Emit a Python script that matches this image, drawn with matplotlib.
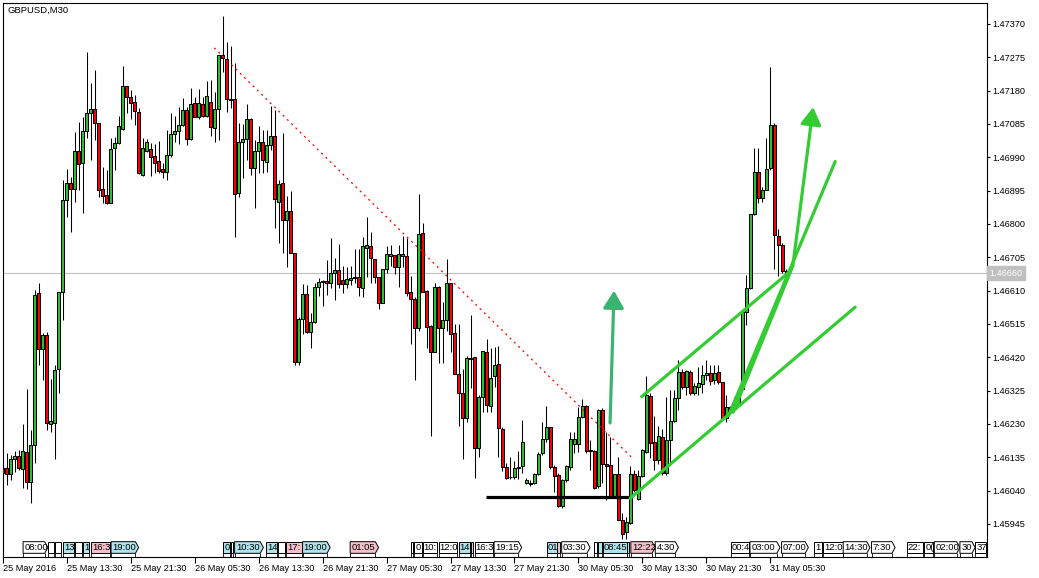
import numpy as np
import matplotlib
matplotlib.use("Agg")
import matplotlib.pyplot as plt
from matplotlib.patches import Polygon
from matplotlib.transforms import blended_transform_factory

plt.rcParams["font.family"] = ["Liberation Sans", "DejaVu Sans"]

W, H = 1039, 578

# GBPUSD M30 candles, 25 May 05:30 .. 31 May 07:30
opens = [
    1.46105, 1.46106, 1.46087, 1.46129, 1.46139, 1.46103, 1.46151, 1.46064, 1.46170, 1.46602,
    1.46445, 1.46483, 1.46229, 1.46232, 1.46388, 1.46605, 1.46867, 1.46917, 1.46899, 1.47008,
    1.46973, 1.47065, 1.47115, 1.47129, 1.47087, 1.46901, 1.46882, 1.46860, 1.47018, 1.47032,
    1.47072, 1.47193, 1.47161, 1.47147, 1.47118, 1.46940, 1.47009, 1.47013, 1.46994, 1.46980,
    1.46957, 1.46949, 1.46997, 1.47056, 1.47065, 1.47082, 1.47125, 1.47041, 1.47144, 1.47106,
    1.47141, 1.47109, 1.47147, 1.47073, 1.47127, 1.47282, 1.47269, 1.47155, 1.47155, 1.46888,
    1.47035, 1.47041, 1.47098, 1.46959, 1.47008, 1.47033, 1.46978, 1.47025, 1.47051, 1.46864,
    1.46918, 1.46810, 1.46837, 1.46717, 1.46406, 1.46528, 1.46601, 1.46493, 1.46520, 1.46620,
    1.46634, 1.46637, 1.46631, 1.46660, 1.46668, 1.46641, 1.46629, 1.46639, 1.46645, 1.46648,
    1.46617, 1.46731, 1.46737, 1.46699, 1.46648, 1.46576, 1.46671, 1.46710, 1.46711, 1.46677,
    1.46709, 1.46709, 1.46605, 1.46585, 1.46505, 1.46774, 1.46609, 1.46509, 1.46436, 1.46620,
    1.46503, 1.46527, 1.46631, 1.46489, 1.46373, 1.46318, 1.46248, 1.46415, 1.46420, 1.46161,
    1.46306, 1.46434, 1.46281, 1.46367, 1.46400, 1.46215, 1.46107, 1.46080, 1.46078, 1.46106,
    1.46109, 1.46063, 1.46060, 1.46061, 1.46088, 1.46148, 1.46186, 1.46221, 1.46107, 1.46085,
    1.45995, 1.46069, 1.46107, 1.46173, 1.46173, 1.46249, 1.46281, 1.46156, 1.46153, 1.46052,
    1.46270, 1.46116, 1.46113, 1.46025, 1.46088, 1.45957, 1.45921, 1.45947, 1.46088, 1.46015,
    1.46082, 1.46151, 1.46309, 1.46178, 1.46127, 1.46193, 1.46089, 1.46184, 1.46239, 1.46303,
    1.46377, 1.46336, 1.46379, 1.46319, 1.46336, 1.46345, 1.46370, 1.46374, 1.46355, 1.46377,
    1.46350, 1.46246, 1.46279, 1.46272, 1.46284, 1.46331, 1.46548, 1.46619, 1.46828, 1.46949,
    1.46873, 1.46898, 1.46960, 1.47082, 1.46765, 1.46740, 1.46667,
]
highs = [
    1.46108, 1.46146, 1.46141, 1.46154, 1.46156, 1.46230, 1.46331, 1.46213, 1.46613, 1.46631,
    1.46488, 1.46493, 1.46357, 1.46398, 1.46605, 1.46925, 1.46958, 1.46933, 1.47063, 1.47091,
    1.47104, 1.47289, 1.47202, 1.47240, 1.47087, 1.46963, 1.46954, 1.47044, 1.47049, 1.47107,
    1.47250, 1.47193, 1.47182, 1.47167, 1.47130, 1.47044, 1.47041, 1.47030, 1.47027, 1.47037,
    1.46973, 1.47068, 1.47117, 1.47108, 1.47133, 1.47158, 1.47134, 1.47187, 1.47161, 1.47184,
    1.47161, 1.47208, 1.47211, 1.47177, 1.47282, 1.47393, 1.47318, 1.47306, 1.47258, 1.47087,
    1.47084, 1.47142, 1.47101, 1.47040, 1.47079, 1.47068, 1.47068, 1.47135, 1.47125, 1.46924,
    1.47060, 1.46880, 1.46895, 1.46717, 1.46534, 1.46629, 1.46626, 1.46545, 1.46631, 1.46645,
    1.46640, 1.46698, 1.46759, 1.46702, 1.46742, 1.46679, 1.46677, 1.46679, 1.46728, 1.46728,
    1.46762, 1.46819, 1.46778, 1.46699, 1.46648, 1.46671, 1.46737, 1.46740, 1.46711, 1.46740,
    1.46766, 1.46759, 1.46652, 1.46593, 1.46886, 1.46802, 1.46612, 1.46512, 1.46631, 1.46622,
    1.46579, 1.46699, 1.46631, 1.46514, 1.46514, 1.46386, 1.46424, 1.46541, 1.46420, 1.46313,
    1.46437, 1.46471, 1.46446, 1.46449, 1.46451, 1.46221, 1.46120, 1.46137, 1.46125, 1.46154,
    1.46240, 1.46075, 1.46069, 1.46090, 1.46151, 1.46237, 1.46280, 1.46221, 1.46113, 1.46090,
    1.46072, 1.46113, 1.46208, 1.46208, 1.46278, 1.46300, 1.46284, 1.46185, 1.46156, 1.46272,
    1.46275, 1.46208, 1.46194, 1.46088, 1.46137, 1.45976, 1.45966, 1.46109, 1.46099, 1.46099,
    1.46158, 1.46366, 1.46318, 1.46252, 1.46224, 1.46217, 1.46308, 1.46327, 1.46327, 1.46412,
    1.46388, 1.46385, 1.46384, 1.46347, 1.46393, 1.46398, 1.46412, 1.46398, 1.46398, 1.46398,
    1.46350, 1.46312, 1.46282, 1.46308, 1.46331, 1.46555, 1.46654, 1.46828, 1.47018, 1.47018,
    1.46906, 1.47044, 1.47248, 1.47088, 1.46787, 1.46745, 1.46673,
]
lows = [
    1.46080, 1.46056, 1.46070, 1.46094, 1.46099, 1.46049, 1.46046, 1.46005, 1.46119, 1.46398,
    1.46355, 1.46213, 1.46208, 1.46129, 1.46317, 1.46526, 1.46820, 1.46778, 1.46863, 1.46897,
    1.46830, 1.47044, 1.46982, 1.47039, 1.46878, 1.46859, 1.46856, 1.46859, 1.46954, 1.47028,
    1.47068, 1.47115, 1.47098, 1.47082, 1.46943, 1.46938, 1.47006, 1.46938, 1.46945, 1.46945,
    1.46932, 1.46924, 1.46992, 1.47035, 1.47028, 1.47078, 1.47025, 1.47039, 1.47104, 1.47098,
    1.47104, 1.47106, 1.47051, 1.47035, 1.47040, 1.47234, 1.47120, 1.47132, 1.46764, 1.46878,
    1.46932, 1.46983, 1.46940, 1.46847, 1.46945, 1.46946, 1.46949, 1.47011, 1.46788, 1.46745,
    1.46718, 1.46677, 1.46717, 1.46398, 1.46398, 1.46486, 1.46490, 1.46446, 1.46519, 1.46595,
    1.46567, 1.46598, 1.46617, 1.46582, 1.46617, 1.46604, 1.46617, 1.46626, 1.46631, 1.46595,
    1.46591, 1.46650, 1.46631, 1.46631, 1.46557, 1.46576, 1.46660, 1.46679, 1.46658, 1.46621,
    1.46677, 1.46595, 1.46458, 1.46354, 1.46496, 1.46607, 1.46446, 1.46196, 1.46436, 1.46405,
    1.46405, 1.46496, 1.46436, 1.46373, 1.46224, 1.46129, 1.46237, 1.46332, 1.46075, 1.46135,
    1.46265, 1.46265, 1.46265, 1.46336, 1.46135, 1.46097, 1.46072, 1.46072, 1.46072, 1.46072,
    1.46090, 1.46058, 1.46054, 1.46059, 1.46085, 1.46142, 1.46180, 1.46101, 1.46037, 1.45993,
    1.45990, 1.46066, 1.46099, 1.46147, 1.46151, 1.46246, 1.46148, 1.46099, 1.46045, 1.46047,
    1.46061, 1.46014, 1.46018, 1.46023, 1.45955, 1.45901, 1.45901, 1.45945, 1.46037, 1.46014,
    1.46078, 1.46147, 1.46132, 1.46098, 1.46117, 1.46084, 1.46084, 1.46117, 1.46236, 1.46270,
    1.46331, 1.46312, 1.46312, 1.46312, 1.46312, 1.46319, 1.46355, 1.46341, 1.46345, 1.46345,
    1.46241, 1.46236, 1.46270, 1.46270, 1.46279, 1.46327, 1.46512, 1.46616, 1.46825, 1.46860,
    1.46863, 1.46897, 1.46954, 1.46673, 1.46651, 1.46659, 1.46654,
]
closes = [
    1.46089, 1.46087, 1.46129, 1.46139, 1.46106, 1.46154, 1.46064, 1.46170, 1.46599, 1.46445,
    1.46483, 1.46232, 1.46238, 1.46385, 1.46605, 1.46867, 1.46917, 1.46901, 1.47008, 1.46970,
    1.47065, 1.47115, 1.47129, 1.47087, 1.46898, 1.46880, 1.46860, 1.47015, 1.47031, 1.47079,
    1.47193, 1.47161, 1.47144, 1.47122, 1.46946, 1.47016, 1.47033, 1.46992, 1.46975, 1.46952,
    1.46949, 1.46997, 1.47056, 1.47065, 1.47082, 1.47125, 1.47041, 1.47141, 1.47106, 1.47144,
    1.47109, 1.47165, 1.47076, 1.47127, 1.47282, 1.47272, 1.47155, 1.47153, 1.46885, 1.47033,
    1.47041, 1.47098, 1.46959, 1.47008, 1.47033, 1.46983, 1.47025, 1.47051, 1.46870, 1.46914,
    1.46810, 1.46837, 1.46717, 1.46406, 1.46528, 1.46601, 1.46493, 1.46520, 1.46620, 1.46634,
    1.46637, 1.46631, 1.46660, 1.46668, 1.46628, 1.46628, 1.46642, 1.46645, 1.46650, 1.46620,
    1.46736, 1.46740, 1.46702, 1.46648, 1.46576, 1.46671, 1.46714, 1.46714, 1.46677, 1.46715,
    1.46714, 1.46604, 1.46585, 1.46503, 1.46772, 1.46607, 1.46507, 1.46436, 1.46621, 1.46503,
    1.46525, 1.46631, 1.46487, 1.46373, 1.46318, 1.46246, 1.46417, 1.46419, 1.46163, 1.46306,
    1.46437, 1.46284, 1.46360, 1.46398, 1.46218, 1.46107, 1.46075, 1.46078, 1.46106, 1.46108,
    1.46178, 1.46071, 1.46061, 1.46088, 1.46145, 1.46186, 1.46221, 1.46107, 1.46083, 1.45995,
    1.46069, 1.46110, 1.46186, 1.46186, 1.46249, 1.46280, 1.46154, 1.46153, 1.46049, 1.46270,
    1.46116, 1.46110, 1.46025, 1.46088, 1.45957, 1.45917, 1.45950, 1.46088, 1.46042, 1.46082,
    1.46156, 1.46314, 1.46175, 1.46127, 1.46195, 1.46089, 1.46184, 1.46239, 1.46303, 1.46379,
    1.46336, 1.46382, 1.46319, 1.46338, 1.46347, 1.46369, 1.46374, 1.46353, 1.46374, 1.46350,
    1.46246, 1.46279, 1.46272, 1.46289, 1.46319, 1.46548, 1.46619, 1.46828, 1.46949, 1.46873,
    1.46898, 1.46958, 1.47082, 1.46768, 1.46740, 1.46667, 1.46660,
]

last_price = 1.46660
price_ticks = [1.45945, 1.46040, 1.46135, 1.46230, 1.46325, 1.46420, 1.46515, 1.46610,
               1.46705, 1.46800, 1.46895, 1.46990, 1.47085, 1.47180, 1.47275, 1.47370]
time_tick_bars = [0, 16, 32, 48, 64, 80, 96, 112, 128, 144, 160, 176, 192]
time_tick_labels = ["25 May 2016", "25 May 13:30", "25 May 21:30", "26 May 05:30",
                    "26 May 13:30", "26 May 21:30", "27 May 05:30", "27 May 13:30",
                    "27 May 21:30", "30 May 05:30", "30 May 13:30", "30 May 21:30",
                    "31 May 05:30"]

# economic calendar markers along the bottom (bar positions)
event_start = [5.1, 11.4, 13.2, 15.0, 18.2, 20.1, 22.1, 27.1, 55.1, 57.1, 58.0, 65.8, 68.9,
               70.9, 75.0, 86.9, 102.1, 102.9, 105.0, 109.0, 114.0, 117.1, 118.0, 122.9,
               136.1, 138.7, 139.8, 147.9, 149.0, 150.1, 156.1, 163.2, 157.1, 182.1, 186.9,
               194.8, 203.0, 205.1, 210.2, 217.3, 226.1, 230.5, 233.0, 239.4, 243.2]
event_end = [11.3, 12.8, 14.7, 17.9, 19.8, 21.7, 26.9, 34.0, 56.9, 57.7, 65.2, 68.7, 70.7,
             74.8, 81.9, 94.0, 102.6, 104.8, 108.7, 113.7, 116.9, 117.7, 122.7, 129.8,
             138.6, 139.4, 146.9, 148.6, 149.8, 156.1, 156.7, 169.0, 163.2, 186.7, 194.4,
             201.5, 204.8, 210.1, 216.9, 223.2, 230.2, 232.7, 239.4, 243.2, 245.9]
event_text = ["08:00", "", "", "13", "", "1", "16:3", "19:00", "0", "", "10:30", "14", "",
              "17:", "19:00", "01:05", "", "0", "10:", "12:0", "14", "", "16:3", "19:15",
              "01", "", "03:30", "", "", "08:45", "", "4:30", "12:22", "00:4", "03:00",
              "07:00", "1", "12:0", "14:30", "7:30", "22:", "0(", "02:00", "30", "37"]
event_kind = ["w", "w", "w", "c", "w", "c", "p", "c", "c", "w", "c", "c", "w",
              "p", "c", "p", "w", "w", "w", "w", "c", "p", "w", "w",
              "c", "p", "w", "w", "c", "c", "c", "w", "p", "w", "w",
              "w", "w", "w", "w", "w", "w", "w", "w", "w", "w"]
event_arrow = [1, 0, 0, 0, 0, 0, 0, 1, 0, 0, 1, 0, 0,
               0, 1, 1, 0, 0, 0, 0, 0, 0, 0, 1,
               0, 0, 1, 0, 0, 0, 0, 1, 1, 0, 1,
               1, 0, 0, 1, 1, 0, 0, 1, 1, 0]

BULL = "#2DC52D"
BEAR = "#FF0000"
LINE_GREEN = "#33CC33"
ARROW_GREEN = "#3CB371"
FILLS = {"w": "white", "c": "#B0E4EC", "p": "#F6C0CB"}

fig = plt.figure(figsize=(W / 100, H / 100), dpi=100)
ax = fig.add_axes([2.7 / W, (H - 556.7) / H, 984.0 / W, 554.0 / H])
ax.set_xlim(0.09, 246.1)
ax.set_ylim(1.458518, 1.474307)

for s in ax.spines.values():
    s.set_color("black")
    s.set_linewidth(0.8)

idx = np.arange(len(closes))
o = np.array(opens)
c = np.array(closes)
bull = c >= o

ax.axhline(last_price, color="#C0C0C0", lw=0.8, zorder=0.5)

# candles
ax.vlines(idx, lows, highs, color="black", lw=0.75, zorder=2)
ax.bar(idx, np.abs(c - o), bottom=np.minimum(o, c), width=0.62,
       color=np.where(bull, BULL, BEAR), edgecolor="black", linewidth=0.75, zorder=3)

# drawn objects
ax.plot([52.9, 157.2], [1.47302, 1.46136], color="red", lw=0.9,
        linestyle=(0, (1.6, 3.2)), zorder=4)
ax.plot([120.8, 157.3], [1.46023, 1.46023], color="black", lw=2.3,
        solid_capstyle="butt", zorder=4)
for (x0, y0, x1, y1) in [(159.8, 1.46308, 196.5, 1.46661),
                         (156.9, 1.46018, 213.2, 1.46563),
                         (181.5, 1.46253, 208.2, 1.46978),
                         (182.7, 1.46264, 197.7, 1.46683)]:
    ax.plot([x0, x1], [y0, y1], color=LINE_GREEN, lw=2.3, zorder=5,
            solid_capstyle="round")

head = "-|>,head_length=0.75,head_width=0.45"
ax.annotate("", xy=(152.9, 1.46610), xytext=(151.9, 1.46233),
            arrowprops=dict(arrowstyle=head, color=ARROW_GREEN, lw=2.3,
                            shrinkA=0, shrinkB=0, mutation_scale=14), zorder=5)
ax.annotate("", xy=(202.7, 1.47133), xytext=(197.7, 1.46688),
            arrowprops=dict(arrowstyle=head, color=LINE_GREEN, lw=2.3,
                            shrinkA=0, shrinkB=0, mutation_scale=14), zorder=5)

# calendar markers
bt = blended_transform_factory(ax.transData, ax.transAxes)
yb, yt = 0.0061, 0.0271
ym = (yb + yt) / 2
tip = 0.8
for x0, x1, txt, kind, arr in zip(event_start, event_end, event_text, event_kind, event_arrow):
    if arr:
        pts = [(x0, yb), (x1 - tip, yb), (x1, ym), (x1 - tip, yt), (x0, yt)]
    else:
        pts = [(x0, yb), (x1, yb), (x1, yt), (x0, yt)]
    poly = Polygon(pts, closed=True, facecolor=FILLS[kind], edgecolor="black",
                   lw=0.7, transform=bt, zorder=6)
    ax.add_patch(poly)
    ax.vlines([x0, x1 - (tip if arr else 0)], 0, yb, color="black", lw=0.6,
              transform=bt, zorder=6)
    if txt:
        t = ax.text(x0 + 0.3, ym, txt, transform=bt, fontsize=6.8, ha="left",
                    va="center", color="black", zorder=7)
        t.set_clip_path(poly)

# axes
ax.yaxis.tick_right()
ax.set_yticks(price_ticks)
ax.set_yticklabels([f"{p:.5f}" for p in price_ticks])
ax.tick_params(axis="y", length=2.5, width=0.8, pad=1.5, labelsize=6.6, color="black")
ax.set_xticks(time_tick_bars)
ax.set_xticklabels(time_tick_labels)
ax.tick_params(axis="x", length=4.6, width=0.8, pad=0.5, labelsize=6.6, color="black")
for lbl in ax.get_xticklabels():
    lbl.set_horizontalalignment("left")

ax.text(1.003, last_price, f"{last_price:.5f}", transform=blended_transform_factory(ax.transAxes, ax.transData),
        fontsize=6.6, color="white", ha="left", va="center",
        bbox=dict(boxstyle="square,pad=0.25", fc="#C0C0C0", ec="#C0C0C0"), clip_on=False)

ax.text(0.0044, 0.994, "GBPUSD,M30", transform=ax.transAxes, fontsize=6.8,
        ha="left", va="top", color="black")

fig.savefig("out.png", dpi=100, facecolor="white")
